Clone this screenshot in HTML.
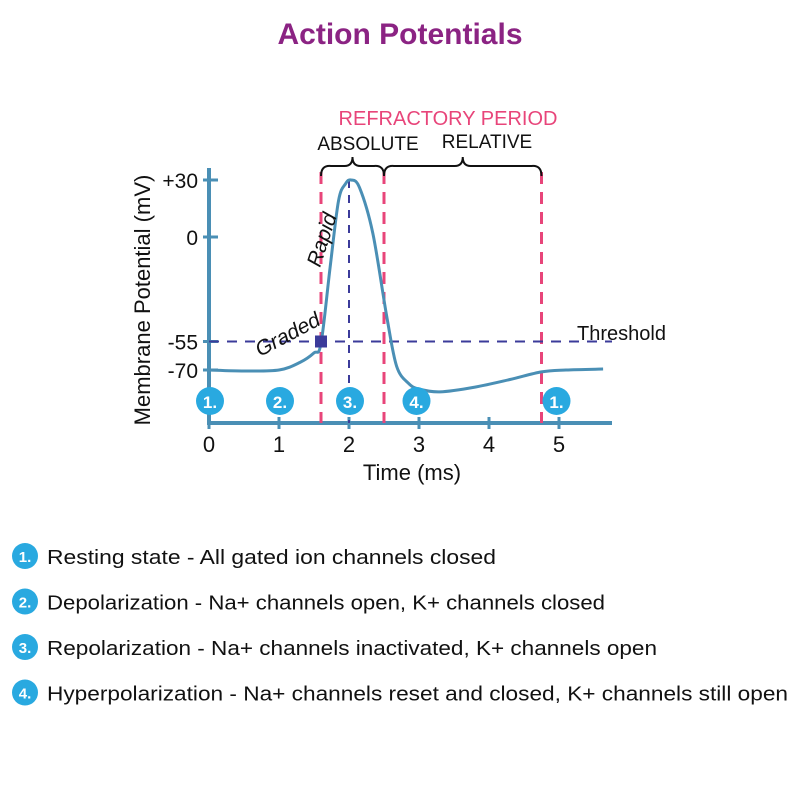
<!DOCTYPE html>
<html><head><meta charset="utf-8"><style>
body{margin:0;background:#fff;width:800px;height:800px;overflow:hidden;font-family:"Liberation Sans",sans-serif}
svg text{font-family:"Liberation Sans",sans-serif}
</style></head><body>
<svg width="800" height="800" viewBox="0 0 800 800">
<text x="400" y="44" text-anchor="middle" font-size="30" font-weight="bold" fill="#8b2383">Action Potentials</text>
<g id="plot"></g>
</svg>
<script>
const times=[0,0.5,1,1.3,1.5,1.6,1.73,1.85,1.95,2.03,2.15,2.34,2.54,2.68,2.85,3.0,3.3,3.8,4.3,4.75,5.1,5.63];
const volts=[-70,-70.5,-70,-66,-61,-56,-16,19,28,30,26,2,-42,-68,-77,-80,-81.5,-79,-75,-71,-70,-69.5];
const xTicks=[0,1,2,3,4,5];
const yTicks=[30,0,-55,-70];
const yTickLabels=["+30","0","-55","-70"];
const refractory=[1.6,2.5,4.75];
const phaseT=[0,1,2,2.95,4.95];
const phaseLabels=["1.","2.","3.","4.","1."];
const threshold=-55;
const legendItems=["Resting state - All gated ion channels closed","Depolarization - Na+ channels open, K+ channels closed","Repolarization - Na+ channels inactivated, K+ channels open","Hyperpolarization - Na+ channels reset and closed, K+ channels still open"];
const legendNums=["1.","2.","3.","4."];
const X=t=>209+t*70, Y=v=>237-v*1.9;
const NS="http://www.w3.org/2000/svg", g=document.getElementById('plot');
function mk(tag,at,txt){const e=document.createElementNS(NS,tag);for(const k in at)e.setAttribute(k,at[k]);if(txt!=null)e.textContent=txt;g.appendChild(e);return e;}
const AX="#4a8fb5";
let e;
e=mk('line',{x1:209,y1:168,x2:209,y2:424,stroke:AX,'stroke-width':4});


e=mk('line',{x1:207,y1:423,x2:612,y2:423,stroke:AX,'stroke-width':4});


xTicks.forEach(t=>{
 e=mk('line',{x1:X(t),y1:417,x2:X(t),y2:429,stroke:AX,'stroke-width':3});
 
 
 e=mk('text',{x:X(t),y:452,'text-anchor':'middle','font-size':22,fill:'#111'},String(t));
 
 
});
yTicks.forEach((v,i)=>{
 e=mk('line',{x1:203,y1:Y(v),x2:218,y2:Y(v),stroke:AX,'stroke-width':3});
 
 
 e=mk('text',{x:198,y:Y(v)+8,'text-anchor':'end','font-size':21,fill:'#111'},yTickLabels[i]);
 
 
});
e=mk('text',{x:412,y:480,'text-anchor':'middle','font-size':22,fill:'#111'},'Time (ms)');


e=mk('text',{x:0,y:0,'text-anchor':'middle','font-size':22,fill:'#111',transform:'translate(150,300) rotate(-90)'},'Membrane Potential (mV)');


refractory.forEach(t=>{
 e=mk('line',{x1:X(t),y1:172,x2:X(t),y2:423,stroke:'#e8457a','stroke-width':3,'stroke-dasharray':'12 8'});
 
 
});
e=mk('line',{x1:X(2),y1:180,x2:X(2),y2:423,stroke:'#3b3b9a','stroke-width':2,'stroke-dasharray':'8 7'});


e=mk('line',{x1:209,y1:Y(threshold),x2:612,y2:Y(threshold),stroke:'#3b3b9a','stroke-width':2,'stroke-dasharray':'10 8'});


const pts=times.map((t,i)=>[X(t),Y(volts[i])]);
let d='M'+pts[0][0]+','+pts[0][1];
for(let i=0;i<pts.length-1;i++){const p0=pts[i-1]||pts[i],p1=pts[i],p2=pts[i+1],p3=pts[i+2]||p2;
 d+=` C${p1[0]+(p2[0]-p0[0])/6},${p1[1]+(p2[1]-p0[1])/6} ${p2[0]-(p3[0]-p1[0])/6},${p2[1]-(p3[1]-p1[1])/6} ${p2[0]},${p2[1]}`;}
e=mk('path',{d:d,fill:'none',stroke:AX,'stroke-width':3});


e=mk('rect',{x:X(1.6)-6,y:Y(threshold)-6,width:12,height:12,fill:'#3b3b9a'});


e=mk('text',{x:577,y:340,'font-size':20,fill:'#111'},'Threshold');


e=mk('text',{x:0,y:0,'font-size':21,'font-style':'italic',fill:'#111',transform:'translate(260,357) rotate(-28)'},'Graded');


e=mk('text',{x:0,y:0,'font-size':21,'font-style':'italic',fill:'#111',transform:'translate(320,268) rotate(-72)'},'Rapid');


phaseT.forEach((t,i)=>{
 e=mk('circle',{cx:X(t)+1,cy:401,r:14,fill:'#29a9e0'});
 
 
 e=mk('text',{x:X(t)+1,y:408,'text-anchor':'middle','font-size':17,'font-weight':'bold',fill:'#fff'},phaseLabels[i]);
 
 
});
e=mk('text',{x:448,y:125,'text-anchor':'middle','font-size':20,fill:'#e8457a'},'REFRACTORY PERIOD');


e=mk('text',{x:368,y:150,'text-anchor':'middle','font-size':19,fill:'#111'},'ABSOLUTE');


e=mk('text',{x:487,y:148,'text-anchor':'middle','font-size':19,fill:'#111'},'RELATIVE');


function brace(a,b){const m=(a+b)/2;return `M${a},176 Q${a},165 ${a+10},166 L${m-8},166 Q${m},166 ${m},157 Q${m},166 ${m+8},166 L${b-10},166 Q${b},165 ${b},176`;}
e=mk('path',{d:brace(X(1.6),X(2.5)),fill:'none',stroke:'#111','stroke-width':2});


e=mk('path',{d:brace(X(2.5),X(4.75)),fill:'none',stroke:'#111','stroke-width':2});


legendItems.forEach((s,i)=>{
 const y=556+i*45.5;
 e=mk('circle',{cx:25,cy:y,r:13,fill:'#29a9e0'});
 
 
 e=mk('text',{x:25,y:y+6,'text-anchor':'middle','font-size':15,'font-weight':'bold',fill:'#fff'},legendNums[i]);
 
 
 e=mk('text',{x:47,y:y+8,'font-size':20,fill:'#111',textLength:s.length>60?741:(i==0?449:i==1?558:610),lengthAdjust:'spacingAndGlyphs'},s);
 
 
});
</script>
</body></html>
